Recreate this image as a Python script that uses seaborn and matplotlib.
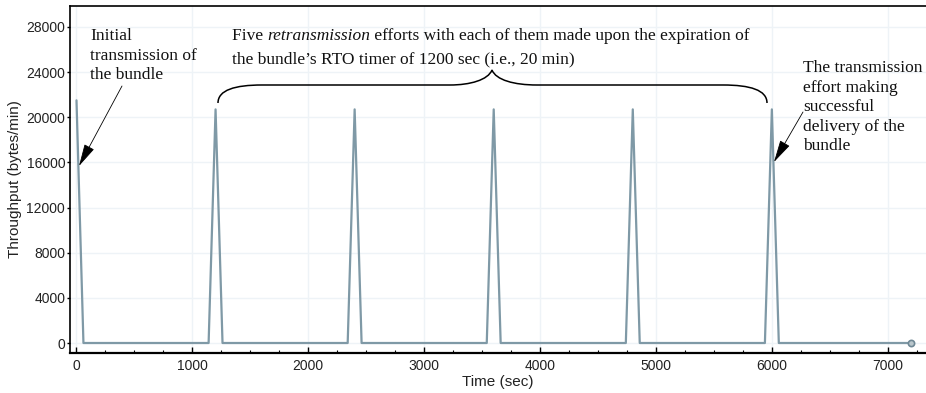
import matplotlib
matplotlib.use("Agg")
import matplotlib.pyplot as plt
import seaborn as sns
import pandas as pd
from matplotlib.path import Path
from matplotlib.patches import PathPatch
from matplotlib.ticker import MultipleLocator

# ---- data ----
time_sec = [0, 60, 1140, 1200, 1260, 2340, 2400, 2460, 3540, 3600, 3660,
            4740, 4800, 4860, 5940, 6000, 6060, 7200]
throughput = [21500, 0, 0, 20700, 0, 0, 20700, 0, 0, 20700, 0,
              0, 20700, 0, 0, 20700, 0, 0]
x_ticks = [0, 1000, 2000, 3000, 4000, 5000, 6000, 7000]
y_ticks = [0, 4000, 8000, 12000, 16000, 20000, 24000, 28000]
end_time = [7200]
end_value = [0]

df = pd.DataFrame({"Time (sec)": time_sec, "Throughput (bytes/min)": throughput})

sns.set_theme(style="white")
plt.rcParams["font.family"] = ["Liberation Sans", "DejaVu Sans"]

W, H = 926, 393
fig = plt.figure(figsize=(W / 100, H / 100), dpi=100)
ax = fig.add_axes([70 / W, 1 - 353 / H, (W - 70) / W, (353 - 6) / H])

ax.grid(True, color="#eef3f7", lw=1.0)
sns.lineplot(data=df, x="Time (sec)", y="Throughput (bytes/min)", ax=ax,
             color="#7f99a6", lw=1.6, zorder=3)
ax.plot(end_time, end_value, "o", ms=4.5, mfc="#b9c6cc", mec="#6f8895", mew=1.2, zorder=4)

ax.set_xlim(-56, 7330)
ax.set_ylim(-886, 29860)
ax.set_xticks(x_ticks)
ax.set_yticks(y_ticks)
ax.xaxis.set_minor_locator(MultipleLocator(250))
ax.tick_params(axis="x", which="major", direction="in", length=4, width=1, colors="black",
               labelsize=10, pad=4, bottom=True)
ax.tick_params(axis="x", which="minor", direction="in", length=2.5, width=0.8, colors="black", bottom=True)
ax.tick_params(axis="y", which="major", direction="out", length=2, width=1, colors="black",
               labelsize=10, pad=1.5, left=True)
for lab in ax.get_xticklabels() + ax.get_yticklabels():
    lab.set_color("#222222")
ax.set_xlabel("Time (sec)", fontsize=11, color="#222222", labelpad=2)
ax.set_ylabel("Throughput (bytes/min)", fontsize=11, color="#222222", labelpad=3)

for s in ["left", "top", "bottom"]:
    ax.spines[s].set_color("black")
    ax.spines[s].set_linewidth(1.2)
ax.spines["bottom"].set_linewidth(1.6)
ax.spines["right"].set_visible(False)


def fp(px, py):
    return (px / W, 1 - py / H)


serif = ["Liberation Serif", "DejaVu Serif"]
fs = 12.5
ls = 1.3

fig.text(*fp(90, 28), "Initial\ntransmission of\nthe bundle", family=serif, fontsize=fs,
         va="top", ha="left", linespacing=ls, color="#111111")
line1 = fig.text(*fp(232, 28), "Five ", family=serif, fontsize=fs, va="top", ha="left", color="#111111")
fig.canvas.draw()
r = fig.canvas.get_renderer()
bb = line1.get_window_extent(r)
it = fig.text(bb.x1 / W, 1 - 28 / H, "retransmission", family=serif, style="italic", fontsize=fs,
              va="top", ha="left", color="#111111")
bb2 = it.get_window_extent(r)
fig.text(bb2.x1 / W, 1 - 28 / H, " efforts with each of them made upon the expiration of",
         family=serif, fontsize=fs, va="top", ha="left", color="#111111")
fig.text(*fp(232, 51), "the bundle\u2019s RTO timer of 1200 sec (i.e., 20 min)", family=serif,
         fontsize=fs, va="top", ha="left", color="#111111")
fig.text(*fp(803, 60), "The transmission\neffort making\nsuccessful\ndelivery of the\nbundle",
         family=serif, fontsize=fs, va="top", ha="left", linespacing=ls, color="#111111")

# arrows
arrow_kw = dict(arrowstyle="-|>,head_length=0.7,head_width=0.17", color="black", lw=0.6,
                shrinkA=0, shrinkB=0, mutation_scale=20)
ax.annotate("", xy=fp(79, 166), xycoords="figure fraction", xytext=fp(122, 86),
            textcoords="figure fraction", arrowprops=arrow_kw)
ax.annotate("", xy=fp(774, 162), xycoords="figure fraction", xytext=fp(803, 112),
            textcoords="figure fraction", arrowprops=arrow_kw)

# curly brace
pts = [(218, 103), (218, 90), (235, 85), (262, 85), (450, 85),
       (470, 85), (488, 80), (492, 70),
       (496, 80), (514, 85), (537, 85),
       (723, 85), (750, 85), (767, 90), (767, 103)]
codes = [Path.MOVETO, Path.CURVE4, Path.CURVE4, Path.CURVE4, Path.LINETO,
         Path.CURVE4, Path.CURVE4, Path.CURVE4,
         Path.CURVE4, Path.CURVE4, Path.CURVE4,
         Path.LINETO, Path.CURVE4, Path.CURVE4, Path.CURVE4]
verts = [fp(x, y) for x, y in pts]
fig.add_artist(PathPatch(Path(verts, codes), transform=fig.transFigure, fill=False,
                         lw=1.1, color="black"))

fig.savefig("out.png", dpi=100)
